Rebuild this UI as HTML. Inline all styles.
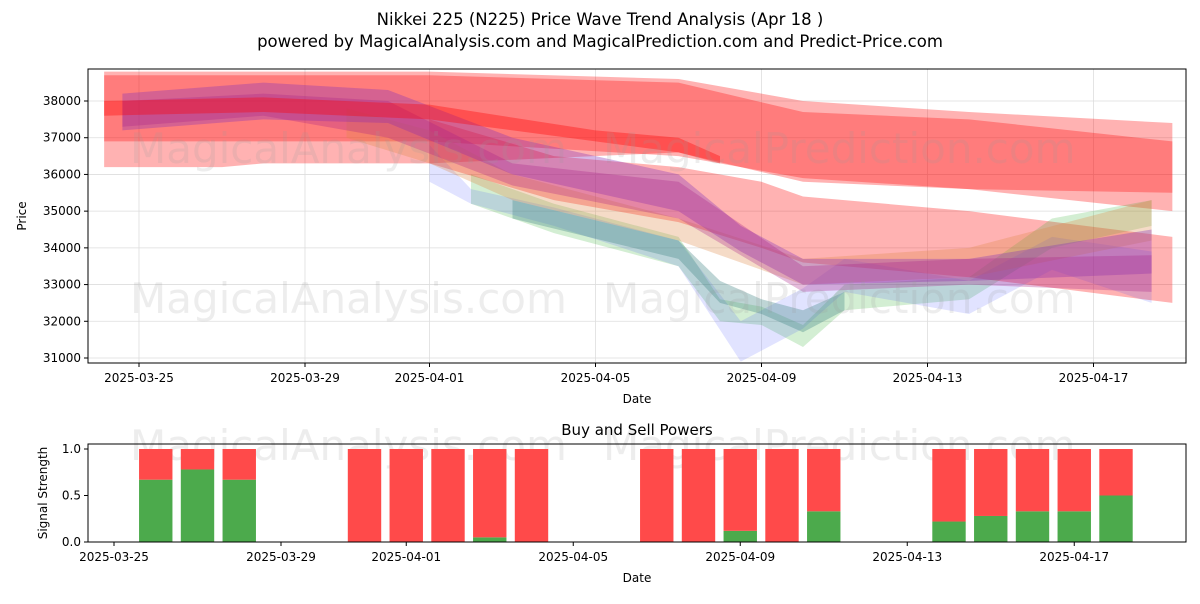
<!DOCTYPE html>
<html><head><meta charset="utf-8"><style>
body{margin:0;background:#fff;font-family:"DejaVu Sans","Liberation Sans",sans-serif}
svg text{font-family:"DejaVu Sans","Liberation Sans",sans-serif}
</style></head><body>
<svg id="c" width="1200" height="600" xmlns="http://www.w3.org/2000/svg">
<rect width="1200" height="600" fill="#fff"/>
<text x="600" y="25" text-anchor="middle" font-size="16.5">Nikkei 225 (N225) Price Wave Trend Analysis (Apr 18 )</text>
<text x="600" y="47" text-anchor="middle" font-size="16.5">powered by MagicalAnalysis.com and MagicalPrediction.com and Predict-Price.com</text>
<g id="topG"></g>
<g id="botG"></g>
</svg>
<script>
// ---- data ----
const yTicks=[31000,32000,33000,34000,35000,36000,37000,38000];
const xTickDays=[0,4,7,11,15,19,23];
const xTickLabels=["2025-03-25","2025-03-29","2025-04-01","2025-04-05","2025-04-09","2025-04-13","2025-04-17"];
// bands: day offsets from 2025-03-25, upper and lower price
const bandR1Days=[-0.84,2,3,7,13,16,20,24.9];
const bandR1Hi=[38800,38800,38800,38800,38600,38000,37700,37400];
const bandR1Lo=[36200,36200,36300,36300,36600,35800,35600,35000];
const bandR2Days=[-0.84,7,13,16,20,24.9];
const bandR2Hi=[38700,38700,38500,37700,37500,36900];
const bandR2Lo=[36900,36900,36500,35900,35600,35500];
const bandR3Days=[-0.84,3,7,11,13,14];
const bandR3Hi=[38000,38100,37900,37200,37000,36500];
const bandR3Lo=[37600,37700,37500,36900,36600,36300];
const bandR4Days=[7,10,13,15,16,20,24.9];
const bandR4Hi=[37500,36500,36200,35800,35400,35000,34300];
const bandR4Lo=[36300,35300,34700,34000,33600,33200,32500];
const bandP1Days=[-0.4,3,6,9,13,14.5,16,20,24.4];
const bandP1Hi=[38200,38500,38300,37000,36000,34600,33700,33700,34500];
const bandP1Lo=[37200,37500,37400,36000,35000,33900,33000,33100,33300];
const bandP2Days=[-0.4,3,6,9,13,16,20,24.4];
const bandP2Hi=[38000,38200,38000,36300,35800,33500,33700,33800];
const bandP2Lo=[37300,37600,37000,35700,34800,32800,33000,32800];
const bandOrDays=[5,7,9,13,16,20,24.4];
const bandOrHi=[37800,37200,36000,34800,33700,34000,35300];
const bandOrLo=[37000,36300,35300,34200,33000,33200,34200];
const bandBlDays=[7,8,10,13,14.5,16,17,20,22,24.4];
const bandBlHi=[36800,35600,35100,34200,32000,32900,33700,33100,34300,33900];
const bandBlLo=[35800,35200,34600,33500,30900,31800,32800,32200,33400,32500];
const bandGrDays=[8,10,13,14,15,16,17,20,22,24.4];
const bandGrHi=[36000,35200,34300,32600,32400,31900,33000,33200,34800,35300];
const bandGrLo=[35200,34400,33500,32000,31900,31300,32300,32600,34000,34600];
const bandTlDays=[9,13,14,15,16,17];
const bandTlHi=[35300,34200,33100,32600,32300,32800];
const bandTlLo=[34800,33700,32500,32200,31700,32300];
// buy/sell
const barDays=[1,2,3,6,7,8,9,10,13,14,15,16,17,20,21,22,23,24];
const buyVals=[0.67,0.78,0.67,0,0,0,0.05,0,0,0,0.12,0,0.33,0.22,0.28,0.33,0.33,0.5];
const sellVals=buyVals.map(v=>1-v);
const by=[0,0.5,1.0];
const byLabels=["0.0","0.5","1.0"];
const bxDays=[0,4,7,11,15,19,23];

const NS="http://www.w3.org/2000/svg";
function mk(p,t,a){const e=document.createElementNS(NS,t);for(const k in a)e.setAttribute(k,a[k]);p.appendChild(e);return e;}
// ---- top axes ----
const T={l:88,r:1186,t:69,b:363};
const tx=d=>139+41.5*d;
const ty=v=>358-(v-31000)*0.036714;
const topG=document.getElementById('topG');
yTicks.forEach(v=>{
 const g=mk(topG,'line',{x1:T.l,x2:T.r,y1:ty(v),y2:ty(v),stroke:'#ddd','stroke-width':0.8});
 
 mk(topG,'line',{x1:T.l-4,x2:T.l,y1:ty(v),y2:ty(v),stroke:'#000'});
 const t=mk(topG,'text',{x:T.l-7,y:ty(v)+4,'text-anchor':'end','font-size':12});t.textContent=v;
 
});
xTickDays.forEach((d,i)=>{
 mk(topG,'line',{x1:tx(d),x2:tx(d),y1:T.t,y2:T.b,stroke:'#ddd','stroke-width':0.8});
 mk(topG,'line',{x1:tx(d),x2:tx(d),y1:T.b,y2:T.b+4,stroke:'#000'});
 const t=mk(topG,'text',{x:tx(d),y:T.b+19,'text-anchor':'middle','font-size':12});t.textContent=xTickLabels[i];
 
});
function band(days,hi,lo,col,op,name){
 let pts=days.map((d,i)=>tx(d)+','+ty(hi[i]));
 for(let i=days.length-1;i>=0;i--)pts.push(tx(days[i])+','+ty(lo[i]));
 const p=mk(topG,'polygon',{points:pts.join(' '),fill:col,'fill-opacity':op});
 
}
band(bandR1Days,bandR1Hi,bandR1Lo,'#ff0000',0.3,'band-red-wide');
band(bandR2Days,bandR2Hi,bandR2Lo,'#ff0000',0.3,'band-red');
band(bandR4Days,bandR4Hi,bandR4Lo,'#ff0000',0.3,'band-red-lower');
band(bandGrDays,bandGrHi,bandGrLo,'#22aa22',0.2,'band-green');
band(bandBlDays,bandBlHi,bandBlLo,'#3344ff',0.15,'band-blue');
band(bandTlDays,bandTlHi,bandTlLo,'#448888',0.35,'band-teal');
band(bandOrDays,bandOrHi,bandOrLo,'#dd8844',0.3,'band-orange');
band(bandP1Days,bandP1Hi,bandP1Lo,'#8833bb',0.35,'band-purple');
band(bandP2Days,bandP2Hi,bandP2Lo,'#aa2288',0.3,'band-purple-2');
band(bandR3Days,bandR3Hi,bandR3Lo,'#ff0000',0.35,'band-red-core');
[[130,163,'MagicalAnalysis.com'],[603,163,'MagicalPrediction.com'],[130,313,'MagicalAnalysis.com'],[603,313,'MagicalPrediction.com']].forEach(w=>{
 const t=mk(topG,'text',{x:w[0],y:w[1],'font-size':42,fill:'#999','fill-opacity':0.18});t.textContent=w[2];
 
});
mk(topG,'rect',{x:T.l,y:T.t,width:T.r-T.l,height:T.b-T.t,fill:'none',stroke:'#000','stroke-width':1});
let tt=mk(topG,'text',{x:637,y:403,'text-anchor':'middle','font-size':12});tt.textContent='Date';

tt=mk(topG,'text',{x:26,y:216,'text-anchor':'middle','font-size':12,transform:'rotate(-90 26 216)'});tt.textContent='Price';

// ---- bottom ----
const B={l:88,r:1186,t:444,b:542};
const bx=d=>114+41.75*d;
const byy=v=>542-v*93;
const botG=document.getElementById('botG');
[[130,460,'MagicalAnalysis.com'],[603,460,'MagicalPrediction.com']].forEach(w=>{
 const t=mk(botG,'text',{x:w[0],y:w[1],'font-size':42,fill:'#999','fill-opacity':0.18});t.textContent=w[2];
 
});
barDays.forEach((d,i)=>{
 const w=33.4,x=bx(d)-w/2;
 const g=mk(botG,'rect',{x:x,y:byy(buyVals[i]),width:w,height:byy(0)-byy(buyVals[i]),fill:'#4caa4c'});
 
 const r=mk(botG,'rect',{x:x,y:byy(buyVals[i]+sellVals[i]),width:w,height:byy(buyVals[i])-byy(buyVals[i]+sellVals[i]),fill:'#ff4a4a'});
 
});
by.forEach((v,i)=>{
 mk(botG,'line',{x1:B.l-4,x2:B.l,y1:byy(v),y2:byy(v),stroke:'#000'});
 const t=mk(botG,'text',{x:B.l-7,y:byy(v)+4,'text-anchor':'end','font-size':12});t.textContent=byLabels[i];
 
});
bxDays.forEach((d,i)=>{
 mk(botG,'line',{x1:bx(d),x2:bx(d),y1:B.b,y2:B.b+4,stroke:'#000'});
 const t=mk(botG,'text',{x:bx(d),y:B.b+19,'text-anchor':'middle','font-size':12});t.textContent=xTickLabels[i];
 
});
mk(botG,'rect',{x:B.l,y:B.t,width:B.r-B.l,height:B.b-B.t,fill:'none',stroke:'#000','stroke-width':1});
tt=mk(botG,'text',{x:637,y:435,'text-anchor':'middle','font-size':15});tt.textContent='Buy and Sell Powers';

tt=mk(botG,'text',{x:637,y:582,'text-anchor':'middle','font-size':12});tt.textContent='Date';

tt=mk(botG,'text',{x:47,y:493,'text-anchor':'middle','font-size':12,transform:'rotate(-90 47 493)'});tt.textContent='Signal Strength';

</script>
</body></html>
